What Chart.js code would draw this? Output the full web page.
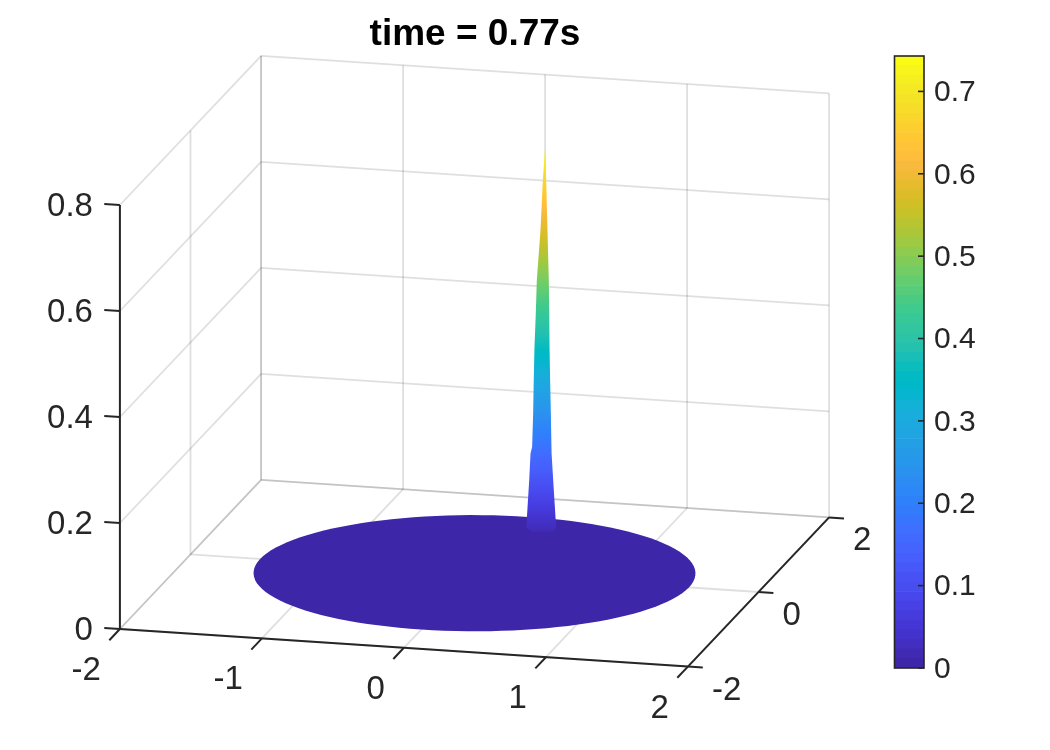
<!DOCTYPE html>
<html>
<head>
<meta charset="utf-8">
<title>time = 0.77s</title>
<script src="https://cdn.jsdelivr.net/npm/chart.js@4/dist/chart.umd.min.js"></script>
<style>
    html, body { margin: 0; background: #fff; }
    #surfaceChart { position: absolute; left: 0; top: 0; }
    #colorbarChart { position: absolute; left: 880px; top: 0; }
</style>
</head>
<body>
<canvas id="surfaceChart" width="950" height="750"></canvas>
<canvas id="colorbarChart" width="170" height="750"></canvas>
<script>
const titleText = 'time = 0.77s';

// Axis ticks
const xTicks = [-2, -1, 0, 1, 2];
const yTicks = [-2, 0, 2];
const zTicks = [0, 0.2, 0.4, 0.6, 0.8];
const colorbarTicks = [0, 0.1, 0.2, 0.3, 0.4, 0.5, 0.6, 0.7];
const colorbarMax = 0.743;

// Surface: flat disc with one narrow peak on it
const discRadius = 1.51;
const peakX = 0.25;
const peakY = 1;
const spikeHeights = [0.742, 0.675, 0.58, 0.487, 0.424, 0.36, 0.298, 0.236, 0.172, 0.16, 0.109, 0.038, 0.02, 0.012];
const spikeWest = [0, 0.017, 0.033, 0.058, 0.065, 0.074, 0.079, 0.083, 0.09, 0.101, 0.11, 0.126, 0.13, 0.09];
const spikeEast = [0, 0.006, 0.015, 0.024, 0.027, 0.029, 0.033, 0.038, 0.042, 0.043, 0.054, 0.07, 0.075, 0.05];

// parula, 64 levels
const parula = [
    [0.2422, 0.1504, 0.6603], [0.2504, 0.1650, 0.7076], [0.2578, 0.1818, 0.7511], [0.2647, 0.1978, 0.7952],
    [0.2706, 0.2147, 0.8364], [0.2751, 0.2342, 0.8710], [0.2783, 0.2559, 0.8991], [0.2803, 0.2782, 0.9221],
    [0.2813, 0.3006, 0.9414], [0.2810, 0.3228, 0.9579], [0.2795, 0.3447, 0.9717], [0.2760, 0.3667, 0.9829],
    [0.2699, 0.3892, 0.9906], [0.2602, 0.4123, 0.9952], [0.2440, 0.4358, 0.9988], [0.2206, 0.4603, 0.9973],
    [0.1963, 0.4847, 0.9892], [0.1834, 0.5074, 0.9798], [0.1786, 0.5289, 0.9682], [0.1764, 0.5499, 0.9520],
    [0.1687, 0.5703, 0.9359], [0.1540, 0.5902, 0.9218], [0.1460, 0.6091, 0.9079], [0.1380, 0.6276, 0.8973],
    [0.1248, 0.6459, 0.8883], [0.1113, 0.6635, 0.8763], [0.0952, 0.6798, 0.8598], [0.0689, 0.6948, 0.8394],
    [0.0297, 0.7082, 0.8163], [0.0036, 0.7203, 0.7917], [0.0067, 0.7312, 0.7660], [0.0433, 0.7411, 0.7394],
    [0.0964, 0.7500, 0.7120], [0.1408, 0.7584, 0.6842], [0.1717, 0.7670, 0.6554], [0.1938, 0.7758, 0.6251],
    [0.2161, 0.7843, 0.5923], [0.2470, 0.7918, 0.5567], [0.2906, 0.7973, 0.5188], [0.3406, 0.8008, 0.4789],
    [0.3909, 0.8029, 0.4354], [0.4456, 0.8024, 0.3909], [0.5044, 0.7993, 0.3480], [0.5616, 0.7942, 0.3045],
    [0.6174, 0.7876, 0.2612], [0.6720, 0.7793, 0.2227], [0.7242, 0.7698, 0.1910], [0.7738, 0.7598, 0.1646],
    [0.8203, 0.7498, 0.1535], [0.8634, 0.7406, 0.1596], [0.9035, 0.7330, 0.1774], [0.9393, 0.7288, 0.2100],
    [0.9728, 0.7298, 0.2394], [0.9956, 0.7434, 0.2371], [0.9970, 0.7659, 0.2199], [0.9952, 0.7861, 0.1999],
    [0.9892, 0.8086, 0.1816], [0.9786, 0.8351, 0.1717], [0.9676, 0.8639, 0.1643], [0.9610, 0.8890, 0.1537],
    [0.9597, 0.9135, 0.1423], [0.9628, 0.9373, 0.1265], [0.9691, 0.9606, 0.1064], [0.9769, 0.9839, 0.0805]
];

const TEXT_COLOR = '#262626';
const GRID_COLOR = 'rgba(38, 38, 38, 0.15)';
const FONT_FAMILY = '"Liberation Sans", Arial, sans-serif';

function levelColor(level) {
    const [r, g, b] = level.map(v => Math.round(v * 255));
    return `rgb(${r}, ${g}, ${b})`;
}

// Orthographic view: world x, y, z onto the flat scales of the surface chart
function project(x, y, z) {
    return {
        x: 474.5 + 142 * x + 35.3 * y,
        y: 573.2 + 9.4 * x - 37.3 * y - 530 * z
    };
}

function segment(from, to, color, width) {
    return {
        data: [project(...from), project(...to)],
        showLine: true,
        fill: false,
        pointRadius: 0,
        borderColor: color,
        borderWidth: width,
        clip: false,
        order: color === GRID_COLOR ? 3 : 2
    };
}

function buildGrid() {
    const lines = [];
    const xLo = xTicks[0], xHi = xTicks[xTicks.length - 1];
    const yLo = yTicks[0], yHi = yTicks[yTicks.length - 1];
    const zLo = zTicks[0], zHi = zTicks[zTicks.length - 1];

    xTicks.forEach(x => {
        lines.push(segment([x, yHi, zLo], [x, yHi, zHi], GRID_COLOR, 1.8));
        lines.push(segment([x, yLo, zLo], [x, yHi, zLo], GRID_COLOR, 1.8));
    });
    yTicks.forEach(y => {
        lines.push(segment([xLo, y, zLo], [xLo, y, zHi], GRID_COLOR, 1.8));
        lines.push(segment([xLo, y, zLo], [xHi, y, zLo], GRID_COLOR, 1.8));
    });
    zTicks.forEach(z => {
        lines.push(segment([xLo, yHi, z], [xHi, yHi, z], GRID_COLOR, 1.8));
        lines.push(segment([xLo, yLo, z], [xLo, yHi, z], GRID_COLOR, 1.8));
    });
    return lines;
}

function buildAxes() {
    const lines = [];
    const xLo = xTicks[0], xHi = xTicks[xTicks.length - 1];
    const yLo = yTicks[0], yHi = yTicks[yTicks.length - 1];
    const zLo = zTicks[0], zHi = zTicks[zTicks.length - 1];

    lines.push(segment([xLo, yLo, zLo], [xLo, yLo, zHi], TEXT_COLOR, 2));
    lines.push(segment([xLo, yLo, zLo], [xHi, yLo, zLo], TEXT_COLOR, 2));
    lines.push(segment([xHi, yLo, zLo], [xHi, yHi, zLo], TEXT_COLOR, 2));

    xTicks.forEach(x => lines.push(segment([x, yLo, zLo], [x, yLo - 0.3, zLo], TEXT_COLOR, 2)));
    yTicks.forEach(y => lines.push(segment([xHi, y, zLo], [xHi + 0.105, y, zLo], TEXT_COLOR, 2)));
    zTicks.forEach(z => lines.push(segment([xLo, yLo, z], [xLo - 0.11, yLo, z], TEXT_COLOR, 2)));
    return lines;
}

function discOutline() {
    const points = [];
    for (let deg = 0; deg < 360; deg += 3) {
        const a = deg * Math.PI / 180;
        points.push(project(discRadius * Math.cos(a), discRadius * Math.sin(a), 0));
    }
    return points;
}

// Silhouette of the peak: west edge going down, then east edge going back up
function spikeOutline() {
    const dx = 0.97, dy = 0.244; // horizontal on screen, within the x-y plane
    const west = spikeHeights.map((z, i) => project(peakX - spikeWest[i] * dx, peakY - spikeWest[i] * dy, z));
    const east = spikeHeights.map((z, i) => project(peakX + spikeEast[i] * dx, peakY + spikeEast[i] * dy, z));
    return west.concat(east.reverse());
}

// Colour follows height, so a vertical gradient along the z range is enough
function spikeFill(context) {
    const { chart } = context;
    const yScale = chart.scales.y;
    const bottom = yScale.getPixelForValue(project(peakX, peakY, 0).y);
    const top = yScale.getPixelForValue(project(peakX, peakY, colorbarMax).y);
    if (!Number.isFinite(bottom) || !Number.isFinite(top)) {
        return levelColor(parula[0]); // scales not laid out yet
    }
    const gradient = chart.ctx.createLinearGradient(0, bottom, 0, top);
    parula.forEach((level, i) => gradient.addColorStop(i / (parula.length - 1), levelColor(level)));
    return gradient;
}

// Tick labels sit next to the projected tick ends
const axisLabels = {
    id: 'axisLabels',
    afterDatasetsDraw(chart) {
        const { ctx, scales } = chart;
        const put = (text, point, dx, dy, align) => {
            ctx.textAlign = align;
            ctx.fillText(text, scales.x.getPixelForValue(point.x) + dx, scales.y.getPixelForValue(point.y) + dy);
        };
        ctx.save();
        ctx.font = `33px ${FONT_FAMILY}`;
        ctx.fillStyle = TEXT_COLOR;
        ctx.textBaseline = 'middle';
        const xLo = xTicks[0], xHi = xTicks[xTicks.length - 1], yLo = yTicks[0];
        xTicks.forEach(x => put(String(x), project(x, yLo, 0), -19, 42, 'right'));
        yTicks.forEach(y => put(String(y), project(xHi, y, 0), 24, 24, 'left'));
        zTicks.forEach(z => put(String(z), project(xLo, yLo, z), -27, 2, 'right'));
        ctx.restore();
    }
};

new Chart(document.getElementById('surfaceChart'), {
    type: 'scatter',
    data: {
        datasets: [
            {
                data: spikeOutline(),
                showLine: true,
                fill: 'shape',
                backgroundColor: spikeFill,
                borderWidth: 0,
                borderDash: [1, 1], // keeps Chart.js off its fast path, which merges points sharing an x pixel
                pointRadius: 0,
                clip: false,
                order: 0
            },
            {
                data: discOutline(),
                showLine: true,
                fill: 'shape',
                backgroundColor: levelColor(parula[0]),
                borderWidth: 0,
                borderDash: [1, 1],
                pointRadius: 0,
                clip: false,
                order: 1
            },
            ...buildAxes(),
            ...buildGrid()
        ]
    },
    options: {
        responsive: false,
        animation: false,
        layout: { padding: 0 },
        plugins: {
            legend: { display: false },
            tooltip: { enabled: false },
            title: {
                display: true,
                text: titleText,
                color: '#000',
                font: { family: FONT_FAMILY, size: 37, weight: 'bold', lineHeight: 1 },
                padding: { top: 16, bottom: 0 }
            }
        },
        scales: {
            x: { type: 'linear', display: false, min: 0, max: 950 },
            y: { type: 'linear', display: false, min: 53, max: 750, reverse: true }
        }
    },
    plugins: [axisLabels]
});

// Box and inward ticks of the colour bar
const colorbarFrame = {
    id: 'colorbarFrame',
    afterDatasetsDraw(chart) {
        const { ctx, chartArea, scales } = chart;
        ctx.save();
        ctx.strokeStyle = TEXT_COLOR;
        ctx.lineWidth = 1.6;
        ctx.strokeRect(chartArea.left, chartArea.top, chartArea.width, chartArea.height);
        colorbarTicks.forEach(t => {
            const y = scales.y.getPixelForValue(t);
            ctx.beginPath();
            ctx.moveTo(chartArea.right - 6, y);
            ctx.lineTo(chartArea.right, y);
            ctx.stroke();
        });
        ctx.restore();
    }
};

new Chart(document.getElementById('colorbarChart'), {
    type: 'bar',
    data: {
        labels: ['colorbar'],
        datasets: parula.map(level => ({
            data: [colorbarMax / parula.length],
            backgroundColor: levelColor(level),
            borderWidth: 0,
            barPercentage: 1,
            categoryPercentage: 1
        }))
    },
    options: {
        responsive: false,
        animation: false,
        layout: { padding: { left: 14.5, top: 56, bottom: 82 } },
        plugins: {
            legend: { display: false },
            tooltip: { enabled: false }
        },
        scales: {
            x: { display: false, stacked: true },
            y: {
                stacked: true,
                position: 'right',
                min: 0,
                max: colorbarMax,
                afterBuildTicks(axis) {
                    axis.ticks = colorbarTicks.map(value => ({ value }));
                },
                afterFit(axis) {
                    axis.width = 126;
                },
                grid: { display: false, drawTicks: false },
                border: { display: false },
                ticks: {
                    color: TEXT_COLOR,
                    padding: 10,
                    labelOffset: 1.5,
                    font: { family: FONT_FAMILY, size: 30 },
                    callback: value => String(value)
                }
            }
        }
    },
    plugins: [colorbarFrame]
});
</script>
</body>
</html>
